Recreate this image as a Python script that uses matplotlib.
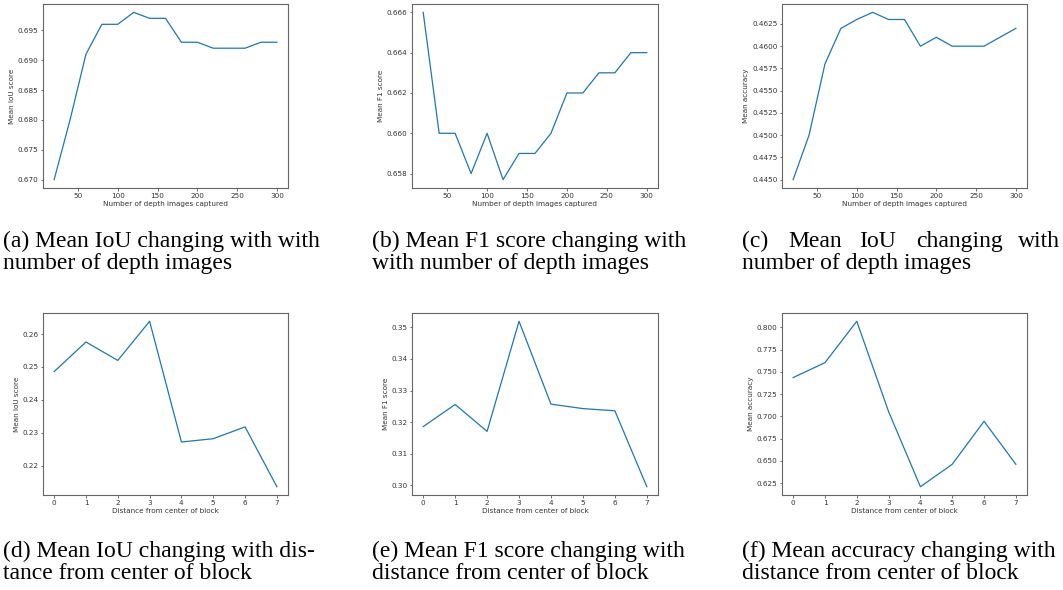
import matplotlib
matplotlib.use("Agg")
import matplotlib.pyplot as plt

# data
n_images = [20, 40, 60, 80, 100, 120, 140, 160, 180, 200, 220, 240, 260, 280, 300]
iou_images = [0.670, 0.680, 0.691, 0.696, 0.696, 0.698, 0.697, 0.697,
              0.693, 0.693, 0.692, 0.692, 0.692, 0.693, 0.693]
f1_images = [0.666, 0.660, 0.660, 0.658, 0.660, 0.6577, 0.659, 0.659,
             0.660, 0.662, 0.662, 0.663, 0.663, 0.664, 0.664]
acc_images = [0.4450, 0.4500, 0.4580, 0.4620, 0.4630, 0.4638, 0.4630, 0.4630,
              0.4600, 0.4610, 0.4600, 0.4600, 0.4600, 0.4610, 0.4620]

distance = [0, 1, 2, 3, 4, 5, 6, 7]
iou_dist = [0.2486, 0.2576, 0.2520, 0.2639, 0.2272, 0.2282, 0.2318, 0.2136]
f1_dist = [0.3186, 0.3256, 0.3171, 0.3519, 0.3257, 0.3243, 0.3236, 0.2996]
acc_dist = [0.7435, 0.7602, 0.8067, 0.7052, 0.6209, 0.6461, 0.6944, 0.6461]

W, H = 1063, 590
fig = plt.figure(figsize=(W / 100, H / 100), dpi=100)

# axes boxes in pixels: left, right, top, bottom
col_x = [(43, 288), (412, 658), (782, 1027)]
row_y = [(4, 188), (313, 495)]

panels = [
    (0, 0, n_images, iou_images, "Number of depth images captured", "Mean IoU score"),
    (0, 1, n_images, f1_images, "Number of depth images captured", "Mean F1 score"),
    (0, 2, n_images, acc_images, "Number of depth images captured", "Mean accuracy"),
    (1, 0, distance, iou_dist, "Distance from center of block", "Mean IoU score"),
    (1, 1, distance, f1_dist, "Distance from center of block", "Mean F1 score"),
    (1, 2, distance, acc_dist, "Distance from center of block", "Mean accuracy"),
]

for r, c, xs, ys, xl, yl in panels:
    x0, x1 = col_x[c]
    t, b = row_y[r]
    ax = fig.add_axes([x0 / W, 1 - b / H, (x1 - x0) / W, (b - t) / H])
    ax.plot(xs, ys, color="#1f77b4", lw=0.9)
    ax.set_xlabel(xl, fontsize=5.2, labelpad=1.5, color="#333333")
    ax.set_ylabel(yl, fontsize=5.2, labelpad=2, color="#333333")
    ax.tick_params(labelsize=5.2, length=1.8, width=0.5, pad=1.5,
                   colors="#333333")
    for s in ax.spines.values():
        s.set_linewidth(0.8)
        s.set_color("#666666")

# captions (LaTeX style, Times-like font)
cap_font = dict(family="Liberation Serif", fontsize=17, color="black",
                va="baseline", ha="left")

def caption(x, y, text):
    fig.text(x / W, 1 - y / H, text, **cap_font)

caption(3, 247, "(a) Mean IoU changing with with")
caption(3, 269, "number of depth images")
caption(372, 247, "(b) Mean F1 score changing with")
caption(372, 269, "with number of depth images")
# justified first line of (c)
for word, x in [("(c)", 742), ("Mean", 788), ("IoU", 859), ("changing", 916), ("with", 1018)]:
    caption(x, 247, word)
caption(742, 269, "number of depth images")

caption(3, 557, "(d) Mean IoU changing with dis-")
caption(3, 579, "tance from center of block")
caption(372, 557, "(e) Mean F1 score changing with")
caption(372, 579, "distance from center of block")
caption(742, 557, "(f) Mean accuracy changing with")
caption(742, 579, "distance from center of block")

fig.savefig("out.png", dpi=100)
